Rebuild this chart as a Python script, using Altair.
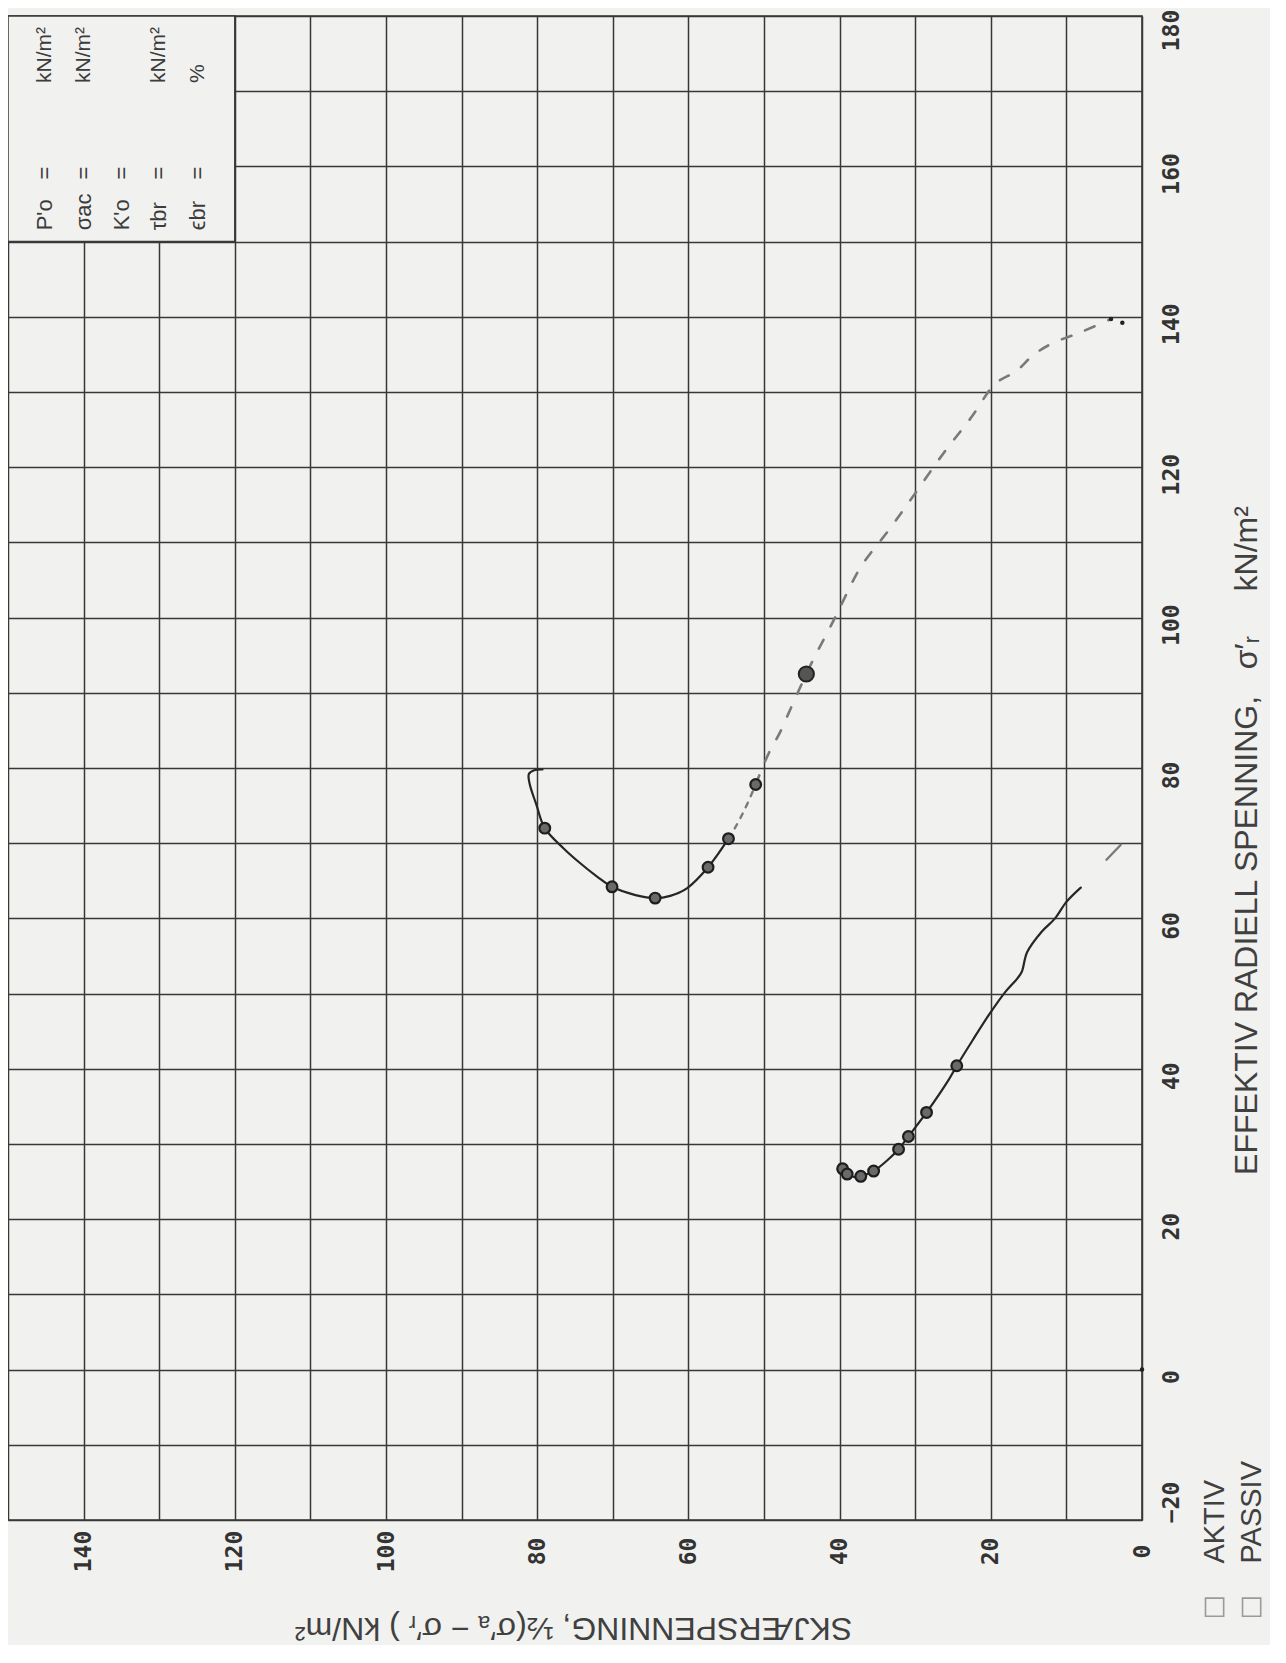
import altair as alt
import pandas as pd

# ---------------- data ----------------
shear_grid = list(range(0, 151, 10))      # SKJÆRSPENNING axis (horizontal, reversed)
radial_grid = list(range(-20, 181, 10))   # EFFEKTIV RADIELL SPENNING axis (vertical)

upper_solid_shear = [79.3, 80.4, 81.1, 81.0, 80.1, 79.0, 76.5, 74.5, 72.0, 70.1, 67.0, 64.4, 62.4, 60.2, 57.4, 54.7]
upper_solid_radial = [79.8, 79.7, 79.2, 77.9, 75.1, 72.0, 69.3, 67.5, 65.5, 64.2, 63.1, 62.7, 63.0, 64.0, 66.8, 70.6]

upper_dotted_shear = [54.7, 53.8, 52.5, 51.1]
upper_dotted_radial = [70.6, 72.1, 74.6, 77.8]

upper_dashed_shear = [51.1, 49.4, 47.9, 46.3, 44.4, 43.3, 42.1, 40.4, 39.1, 37.1, 33.6, 30.3, 26.3, 22.6, 19.4, 16.6, 14.4, 12.0, 8.0, 4.1]
upper_dashed_radial = [77.8, 81.9, 84.7, 88.3, 92.5, 94.8, 97.1, 100.4, 103.1, 106.9, 111.5, 116.1, 121.8, 126.6, 131.1, 132.8, 134.9, 136.4, 138.0, 139.7]

lower_solid_shear = [40.0, 39.6, 39.0, 38.0, 37.2, 35.5, 33.5, 32.2, 30.9, 28.5, 25.6, 24.5, 22.4, 20.3, 18.1, 16.5, 15.9, 15.2, 13.3, 11.5, 10.0, 8.1]
lower_solid_radial = [27.3, 26.7, 26.0, 25.6, 25.7, 26.4, 28.0, 29.3, 31.0, 34.2, 38.5, 40.4, 43.8, 47.1, 50.2, 52.0, 52.9, 55.5, 58.2, 60.0, 62.2, 64.1]

lower_dashed_shear = [4.7, 2.8]
lower_dashed_radial = [67.8, 69.8]

upper_marker_shear = [79.0, 70.1, 64.4, 57.4, 54.7, 51.1]
upper_marker_radial = [72.0, 64.2, 62.7, 66.8, 70.6, 77.8]

lower_marker_shear = [39.6, 39.0, 37.2, 35.5, 32.2, 30.9, 28.5, 24.5]
lower_marker_radial = [26.7, 26.0, 25.7, 26.4, 29.3, 31.0, 34.2, 40.4]

big_point_shear = [44.4]
big_point_radial = [92.5]

small_point_shear = [0.0, 4.1, 2.6]
small_point_radial = [0.0, 139.7, 139.2]

# info box (top-left corner of the sheet)
info_box_shear = [150, 120]
info_box_radial = [180, 150]
info_symbols = ["P'o", "σac", "K'o", "τbr", "ϵbr"]
info_units = ["kN/m²", "kN/m²", "", "kN/m²", "%"]
info_column_shear = [145.1, 140.0, 134.9, 130.0, 124.9]
info_symbol_radial = 151.5
info_equals_radial = 159.1
info_unit_radial = 171.1

legend_labels = ["AKTIV", "PASSIV"]
legend_shear = [-9.6, -14.5]
legend_text_radial = -25.8
legend_box_radial = -31.6

NB = "\u00a0"
x_title = "SKJÆRSPENNING, ½(σ′ₐ − σ′ᵣ )  kN/m²"
y_title = "EFFEKTIV RADIELL SPENNING," + NB * 3 + "σ′ᵣ" + NB * 5 + "kN/m²"

# ---------------- styling ----------------
BG = "#f1f1ef"
GRID = "#383838"
INK = "#262626"
GREY = "#7a7a7a"
TEXT = "#404040"
SANS = "Liberation Sans, DejaVu Sans, sans-serif"
MONO = "DejaVu Sans Mono, monospace"

xs = alt.Scale(domain=[0, 150], reverse=True, nice=False, zero=False)
ys = alt.Scale(domain=[-20, 180], nice=False, zero=False)

x_axis = alt.Axis(
    orient="bottom", values=shear_grid,
    labelExpr="datum.value % 20 == 0 ? datum.label : ''",
    grid=True, gridColor=GRID, gridWidth=1.5, gridOpacity=1,
    domain=False, ticks=False,
    labelAngle=270, labelAlign="center", labelBaseline="middle",
    labelPadding=31, labelFont=MONO, labelFontSize=23, labelFontWeight="bold",
    labelColor="#333333",
    labelFlush=False, labelOverlap=False, labelBound=False,
    title=x_title,
    titleAngle=180, titleX=565, titleY=107, titleAlign="center", titleBaseline="middle",
    titleFont=SANS, titleFontSize=32, titleFontWeight="normal", titleColor=TEXT,
)
y_axis = alt.Axis(
    orient="right", values=radial_grid,
    labelExpr="datum.value % 20 == 0 ? datum.label : ''",
    grid=True, gridColor=GRID, gridWidth=1.5, gridOpacity=1,
    domain=False, ticks=False,
    labelAngle=270, labelAlign="center", labelBaseline="middle",
    labelPadding=29, labelFont=MONO, labelFontSize=23, labelFontWeight="bold",
    labelColor="#333333",
    labelOffset={"condition": [{"test": "datum.value == 180", "value": 14},
                               {"test": "datum.value == -20", "value": -18}],
                 "value": 7},
    labelFlush=False, labelOverlap=False, labelBound=False,
    title=y_title,
    titleAngle=270, titleX=104, titleY=824, titleAlign="center", titleBaseline="middle",
    titleFont=SANS, titleFontSize=32, titleFontWeight="normal", titleColor=TEXT,
)

X = alt.X("s:Q", scale=xs, axis=x_axis)
Y = alt.Y("r:Q", scale=ys, axis=y_axis)


def frame(s, r):
    return pd.DataFrame({"s": s, "r": r, "i": list(range(len(s)))})


box = alt.Chart(pd.DataFrame({
    "s": [info_box_shear[0]], "s2": [info_box_shear[1]],
    "r": [info_box_radial[0]], "r2": [info_box_radial[1]],
})).mark_rect(fill=BG, stroke=GRID, strokeWidth=1.5).encode(
    x=X, x2="s2:Q", y=Y, y2="r2:Q")


def line(s, r, color, width, dash=None):
    kw = dict(interpolate="catmull-rom", color=color, strokeWidth=width, strokeCap="round")
    if dash:
        kw["strokeDash"] = dash
    return alt.Chart(frame(s, r)).mark_line(**kw).encode(x=X, y=Y, order="i:Q")


upper_solid = line(upper_solid_shear, upper_solid_radial, INK, 2.2)
upper_dotted = line(upper_dotted_shear, upper_dotted_radial, GREY, 2.4, [5, 7])
upper_dashed = line(upper_dashed_shear, upper_dashed_radial, GREY, 2.6, [10, 15])
lower_solid = line(lower_solid_shear, lower_solid_radial, INK, 2.2)
lower_dashed = line(lower_dashed_shear, lower_dashed_radial, GREY, 2.4)

markers = alt.Chart(pd.concat([
    frame(upper_marker_shear, upper_marker_radial),
    frame(lower_marker_shear, lower_marker_radial),
])).mark_point(shape="circle", filled=True, fill="#6a6a6a", stroke="#1e1e1e",
               strokeWidth=2.2, size=115, opacity=1).encode(x=X, y=Y)

big_point = alt.Chart(frame(big_point_shear, big_point_radial)).mark_point(
    shape="circle", filled=True, fill="#555555", stroke="#222222", strokeWidth=2,
    size=230, opacity=1).encode(x=X, y=Y)

small_points = alt.Chart(frame(small_point_shear, small_point_radial)).mark_point(
    shape="circle", filled=True, color="#222222", size=20, opacity=1).encode(x=X, y=Y)

info_df = pd.DataFrame({
    "s": info_column_shear,
    "sym": info_symbols,
    "unit": info_units,
})
info_sym = alt.Chart(info_df.assign(r=info_symbol_radial)).mark_text(
    angle=270, align="left", baseline="middle", font=SANS, fontSize=22,
    color="#3c3c3c").encode(x=X, y=Y, text="sym:N")
info_eq = alt.Chart(info_df.assign(r=info_equals_radial, eq="=")).mark_text(
    angle=270, align="center", baseline="middle", font=SANS, fontSize=22,
    color="#3c3c3c").encode(x=X, y=Y, text="eq:N")
info_unit = alt.Chart(info_df.assign(r=info_unit_radial)).mark_text(
    angle=270, align="left", baseline="middle", font=SANS, fontSize=21,
    color="#3c3c3c").encode(x=X, y=Y, text="unit:N")

legend_df = pd.DataFrame({"s": legend_shear, "lab": legend_labels})
legend_text = alt.Chart(legend_df.assign(r=legend_text_radial)).mark_text(
    angle=270, align="left", baseline="middle", font=SANS, fontSize=29,
    color=TEXT).encode(x=X, y=Y, text="lab:N")
legend_box = alt.Chart(legend_df.assign(r=legend_box_radial)).mark_point(
    shape="square", filled=False, stroke="#9a9a9a", strokeWidth=1.6, size=330,
    opacity=1).encode(x=X, y=Y)

chart = alt.layer(
    box, lower_solid, lower_dashed, upper_solid, upper_dotted, upper_dashed,
    markers, big_point, small_points, info_sym, info_eq, info_unit,
    legend_text, legend_box,
).properties(
    width=1134, height=1504,
    autosize=alt.AutoSizeParams(type="none"),
    padding={"left": 0, "top": 8, "right": 128, "bottom": 125},
    background=BG,
).configure_view(stroke=GRID, strokeWidth=1.6)

chart.save("out.html", embed_options={"renderer": "svg", "actions": False})
